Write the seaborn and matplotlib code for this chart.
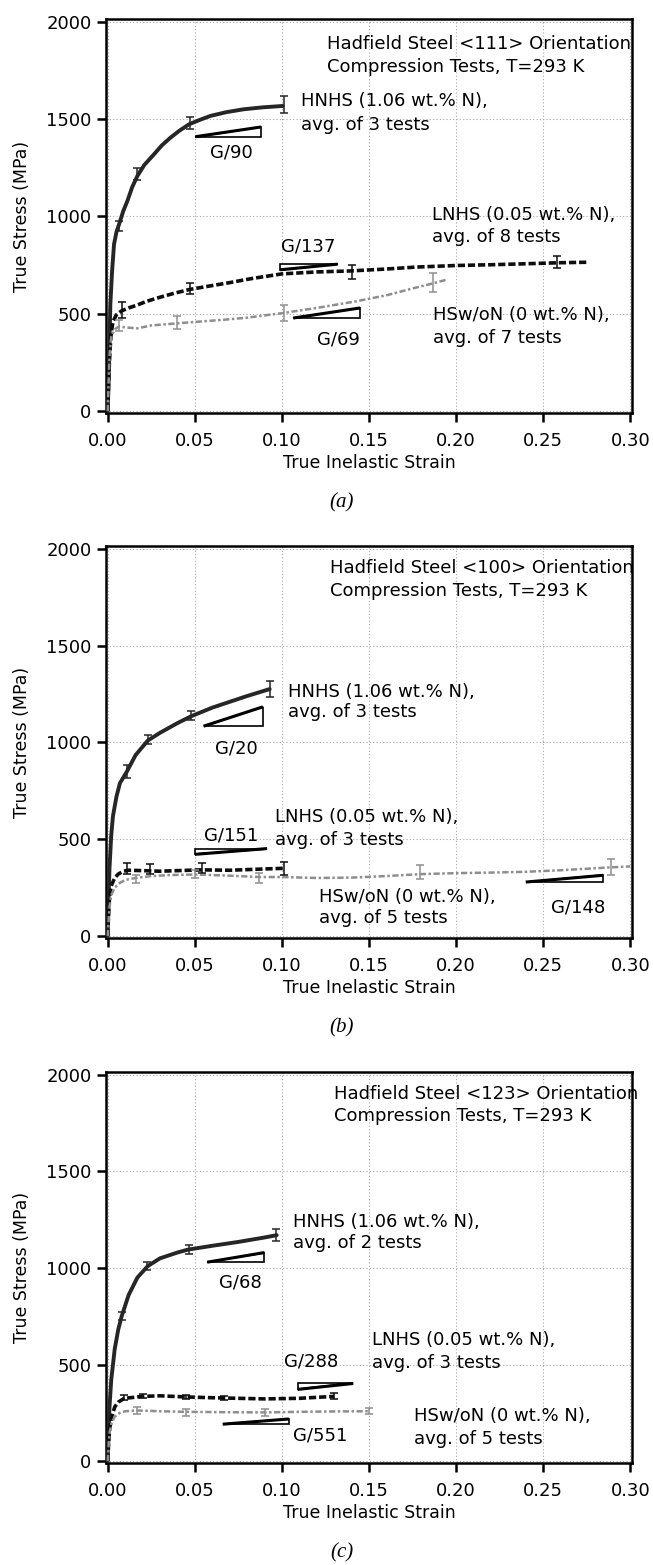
import pandas as pd
import matplotlib
matplotlib.use('Agg')
import matplotlib.pyplot as plt
from matplotlib.patches import Polygon
import seaborn as sns

sns.set_theme(style='white')
plt.rcParams['font.family'] = ['DejaVu Sans']
plt.rcParams['text.color'] = 'black'
plt.rcParams['axes.labelcolor'] = 'black'
plt.rcParams['xtick.color'] = 'black'
plt.rcParams['ytick.color'] = 'black'

series_names = ['HNHS', 'LNHS', 'HSw/oN']
x_ticks = [0.00, 0.05, 0.10, 0.15, 0.20, 0.25, 0.30]
x_tick_labels = ['0.00', '0.05', '0.10', '0.15', '0.20', '0.25', '0.30']
y_ticks = [0, 500, 1000, 1500, 2000]
y_tick_labels = ['0', '500', '1000', '1500', '2000']

# ---------------- panel (a): <111>
a_hnhs_strain = [0, 0.0005, 0.001, 0.0015, 0.0025, 0.0036, 0.005, 0.0065, 0.009, 0.0113, 0.014, 0.017,
                 0.021, 0.0266, 0.031, 0.036, 0.041, 0.0467, 0.053, 0.059, 0.068, 0.078, 0.089, 0.1004]
a_hnhs_stress = [0, 150, 350, 550, 720, 857, 920, 960, 1030, 1080, 1150, 1208,
                 1265, 1320, 1365, 1405, 1440, 1474, 1497, 1517, 1536, 1551, 1561, 1568]
a_lnhs_strain = [0, 0.0005, 0.0012, 0.002, 0.003, 0.005, 0.008, 0.012, 0.017, 0.022, 0.03, 0.038, 0.047,
                 0.06, 0.07, 0.082, 0.1, 0.12, 0.139, 0.16, 0.177, 0.2, 0.22, 0.24, 0.258, 0.276]
a_lnhs_stress = [0, 150, 300, 400, 460, 495, 515, 530, 545, 563, 585, 605, 625,
                 645, 660, 680, 705, 715, 720, 730, 740, 748, 752, 757, 762, 765]
a_hswon_strain = [0, 0.0005, 0.001, 0.002, 0.004, 0.0065, 0.01, 0.017, 0.025, 0.032, 0.04, 0.05, 0.065,
                  0.08, 0.1, 0.12, 0.142, 0.16, 0.175, 0.187, 0.194]
a_hswon_stress = [0, 150, 280, 380, 420, 435, 430, 425, 440, 445, 451, 458, 468,
                  480, 503, 530, 563, 595, 630, 657, 674]
a_hnhs_err_x = [0.0065, 0.017, 0.0475, 0.101]
a_hnhs_err_y = [950, 1220, 1480, 1575]
a_hnhs_err = [25, 30, 30, 45]
a_lnhs_err_x = [0.008, 0.047, 0.14, 0.258]
a_lnhs_err_y = [520, 630, 715, 765]
a_lnhs_err = [40, 30, 35, 30]
a_hswon_err_x = [0.0065, 0.04, 0.101, 0.187]
a_hswon_err_y = [440, 455, 505, 660]
a_hswon_err = [30, 35, 40, 50]
a_slopes = ['G/90', 'G/137', 'G/69']
a_slope_tris = [(0.0503, 0.088, 1410, 1460, 'br'), (0.099, 0.132, 726, 755, 'tl'), (0.1065, 0.145, 478, 530, 'br')]
a_slope_text_xy = [(0.0707, 1327), (0.1153, 846), (0.1325, 370)]
a_header = ['Hadfield Steel <111> Orientation', 'Compression Tests, T=293 K']
a_header_xy = (0.126, 1887, 1769)
a_labels = [('HNHS (1.06 wt.% N),', 'avg. of 3 tests'), ('LNHS (0.05 wt.% N),', 'avg. of 8 tests'),
            ('HSw/oN (0 wt.% N),', 'avg. of 7 tests')]
a_label_xy = [(0.111, 1592, 1468), (0.186, 1008, 897), (0.187, 494, 377)]

# ---------------- panel (b): <100>
b_hnhs_strain = [0, 0.0005, 0.001, 0.002, 0.003, 0.005, 0.007, 0.011, 0.016, 0.023, 0.03, 0.04, 0.048,
                 0.06, 0.07, 0.08, 0.093]
b_hnhs_stress = [0, 200, 350, 520, 620, 720, 790, 850, 935, 1010, 1050, 1100, 1136,
                 1180, 1210, 1240, 1276]
b_lnhs_strain = [0, 0.0005, 0.001, 0.002, 0.004, 0.006, 0.009, 0.012, 0.02, 0.03, 0.04, 0.054, 0.07, 0.085, 0.101]
b_lnhs_stress = [0, 120, 200, 260, 300, 320, 335, 340, 338, 335, 338, 342, 340, 345, 350]
b_hswon_strain = [0, 0.0005, 0.001, 0.002, 0.004, 0.007, 0.01, 0.016, 0.025, 0.035, 0.05, 0.07, 0.087, 0.1,
                  0.12, 0.14, 0.16, 0.18, 0.2, 0.22, 0.24, 0.26, 0.289, 0.3]
b_hswon_stress = [0, 80, 150, 210, 250, 275, 290, 300, 310, 315, 318, 312, 305, 305,
                  300, 302, 310, 320, 325, 328, 332, 340, 355, 360]
b_hnhs_err_x = [0.011, 0.023, 0.048, 0.093]
b_hnhs_err_y = [850, 1015, 1140, 1276]
b_hnhs_err = [35, 25, 25, 40]
b_lnhs_err_x = [0.011, 0.024, 0.054, 0.101]
b_lnhs_err_y = [350, 345, 350, 350]
b_lnhs_err = [30, 25, 25, 35]
b_hswon_err_x = [0.016, 0.05, 0.087, 0.179, 0.289]
b_hswon_err_y = [295, 320, 300, 330, 358]
b_hswon_err = [20, 20, 25, 35, 40]
b_slopes = ['G/20', 'G/151', 'G/148']
b_slope_tris = [(0.055, 0.089, 1084, 1184, 'br'), (0.050, 0.0915, 422, 452, 'tl'), (0.240, 0.2845, 279, 314, 'br')]
b_slope_text_xy = [(0.0736, 969), (0.0707, 521), (0.27, 147)]
b_header = ['Hadfield Steel <100> Orientation', 'Compression Tests, T=293 K']
b_header_xy = (0.1275, 1900, 1784)
b_labels = [('HNHS (1.06 wt.% N),', 'avg. of 3 tests'), ('LNHS (0.05 wt.% N),', 'avg. of 3 tests'),
            ('HSw/oN (0 wt.% N),', 'avg. of 5 tests')]
b_label_xy = [(0.1035, 1262, 1155), (0.0963, 615, 498), (0.1215, 202, 95)]

# ---------------- panel (c): <123>
c_hnhs_strain = [0, 0.0005, 0.001, 0.002, 0.004, 0.006, 0.008, 0.012, 0.017, 0.023, 0.03, 0.04, 0.046,
                 0.06, 0.075, 0.09, 0.097]
c_hnhs_stress = [0, 150, 280, 420, 580, 680, 750, 860, 950, 1010, 1050, 1080, 1095,
                 1115, 1135, 1158, 1170]
c_lnhs_strain = [0, 0.0005, 0.001, 0.002, 0.004, 0.006, 0.0095, 0.015, 0.02, 0.03, 0.045, 0.06, 0.075,
                 0.09, 0.11, 0.12, 0.13]
c_lnhs_stress = [0, 100, 160, 220, 280, 305, 325, 330, 335, 338, 332, 328, 325,
                 322, 325, 330, 335]
c_hswon_strain = [0, 0.0005, 0.001, 0.002, 0.004, 0.007, 0.01, 0.0167, 0.03, 0.045, 0.07, 0.09, 0.11, 0.13, 0.15]
c_hswon_stress = [0, 80, 140, 190, 230, 250, 258, 262, 258, 255, 253, 252, 255, 257, 258]
c_hnhs_err_x = [0.008, 0.0226, 0.0464, 0.0964]
c_hnhs_err_y = [750, 1009, 1095, 1170]
c_hnhs_err = [20, 20, 25, 30]
c_lnhs_err_x = [0.0095, 0.02, 0.045, 0.067, 0.13]
c_lnhs_err_y = [330, 338, 332, 328, 337]
c_lnhs_err = [12, 10, 12, 10, 15]
c_hswon_err_x = [0.0167, 0.045, 0.0905, 0.15]
c_hswon_err_y = [262, 252, 252, 258]
c_hswon_err = [18, 18, 20, 15]
c_slopes = ['G/68', 'G/288', 'G/551']
c_slope_tris = [(0.0571, 0.09, 1030, 1080, 'br'), (0.109, 0.141, 371, 402, 'tl'), (0.066, 0.104, 191, 218, 'br')]
c_slope_text_xy = [(0.076, 925), (0.1167, 518), (0.122, 134)]
c_header = ['Hadfield Steel <123> Orientation', 'Compression Tests, T=293 K']
c_header_xy = (0.13, 1902, 1786)
c_labels = [('HNHS (1.06 wt.% N),', 'avg. of 2 tests'), ('LNHS (0.05 wt.% N),', 'avg. of 3 tests'),
            ('HSw/oN (0 wt.% N),', 'avg. of 5 tests')]
c_label_xy = [(0.1064, 1236, 1129), (0.152, 625, 509), (0.176, 232, 116)]

colors = {'HNHS': '#262626', 'LNHS': '#0d0d0d', 'HSw/oN': '#8e8e8e'}
dashes = {'HNHS': '', 'LNHS': (2.0, 0.8), 'HSw/oN': (2.5, 1, 1, 1)}
widths = {'HNHS': 2.8, 'LNHS': 2.6, 'HSw/oN': 1.8}


def draw_panel(ax, curves, errs, slopes, tris, slope_xy, header, header_xy, labels, label_xy):
    frames = []
    for name, (sx, sy) in zip(series_names, curves):
        frames.append(pd.DataFrame({'strain': sx, 'stress': sy, 'series': name}))
    df = pd.concat(frames, ignore_index=True)
    sns.lineplot(data=df, x='strain', y='stress', hue='series', style='series', size='series',
                 palette=colors, dashes=dashes, sizes=widths, estimator=None, sort=False,
                 legend=False, ax=ax, zorder=3)
    for name, (ex, ey, ee) in zip(series_names, errs):
        ax.errorbar(ex, ey, yerr=ee, fmt='none', ecolor=colors[name], elinewidth=1.1,
                    capsize=3, capthick=1.1, zorder=3)

    for (x0, x1, y0, y1, kind), lab, (tx, ty) in zip(tris, slopes, slope_xy):
        if kind == 'br':
            verts = [(x0, y0), (x1, y0), (x1, y1)]
        else:
            verts = [(x0, y0), (x0, y1), (x1, y1)]
        ax.add_patch(Polygon(verts, closed=True, fc='white', ec='black', lw=1.2, zorder=4))
        ax.plot([x0, x1], [y0, y1], color='black', lw=2.2, zorder=5, solid_capstyle='butt')
        ax.text(tx, ty, lab, fontsize=13, ha='center', va='center', zorder=6)

    hx, hy1, hy2 = header_xy
    ax.text(hx, hy1, header[0], fontsize=13, ha='left', va='center')
    ax.text(hx, hy2, header[1], fontsize=13, ha='left', va='center')
    for (l1, l2), (lx, ly1, ly2) in zip(labels, label_xy):
        ax.text(lx, ly1, l1, fontsize=13, ha='left', va='center')
        ax.text(lx, ly2, l2, fontsize=13, ha='left', va='center')

    ax.set_xlim(-0.001, 0.301)
    ax.set_ylim(-10, 2015)
    ax.set_xticks(x_ticks, x_tick_labels)
    ax.set_yticks(y_ticks, y_tick_labels)
    ax.grid(True, color='#a8a8a8', linestyle=(0, (1, 2)), linewidth=0.8)
    ax.set_axisbelow(True)
    for sp in ax.spines.values():
        sp.set_visible(True)
        sp.set_color('black')
        sp.set_linewidth(1.8)
    ax.tick_params(axis='both', direction='out', length=6.5, width=1.8, labelsize=13, colors='black',
                   bottom=True, left=True)
    ax.tick_params(axis='x', pad=7)
    ax.tick_params(axis='y', pad=4)
    ax.set_xlabel('True Inelastic Strain', fontsize=12.5)
    ax.set_ylabel('True Stress (MPa)', fontsize=12.5)
    ax.xaxis.set_label_coords(0.5, -0.104)
    ax.yaxis.set_label_coords(-0.142, 0.5)


fig = plt.figure(figsize=(6.53, 15.65), dpi=100)
W, H = 653.0, 1565.0
left = 106 / W
width = (632 - 106) / W

panels = [
    (413, 394, 'a', [(a_hnhs_strain, a_hnhs_stress), (a_lnhs_strain, a_lnhs_stress), (a_hswon_strain, a_hswon_stress)],
     [(a_hnhs_err_x, a_hnhs_err_y, a_hnhs_err), (a_lnhs_err_x, a_lnhs_err_y, a_lnhs_err),
      (a_hswon_err_x, a_hswon_err_y, a_hswon_err)],
     a_slopes, a_slope_tris, a_slope_text_xy, a_header, a_header_xy, a_labels, a_label_xy, 503),
    (938, 392, 'b', [(b_hnhs_strain, b_hnhs_stress), (b_lnhs_strain, b_lnhs_stress), (b_hswon_strain, b_hswon_stress)],
     [(b_hnhs_err_x, b_hnhs_err_y, b_hnhs_err), (b_lnhs_err_x, b_lnhs_err_y, b_lnhs_err),
      (b_hswon_err_x, b_hswon_err_y, b_hswon_err)],
     b_slopes, b_slope_tris, b_slope_text_xy, b_header, b_header_xy, b_labels, b_label_xy, 1028),
    (1463, 391, 'c', [(c_hnhs_strain, c_hnhs_stress), (c_lnhs_strain, c_lnhs_stress), (c_hswon_strain, c_hswon_stress)],
     [(c_hnhs_err_x, c_hnhs_err_y, c_hnhs_err), (c_lnhs_err_x, c_lnhs_err_y, c_lnhs_err),
      (c_hswon_err_x, c_hswon_err_y, c_hswon_err)],
     c_slopes, c_slope_tris, c_slope_text_xy, c_header, c_header_xy, c_labels, c_label_xy, 1553),
]

for bottom_px, h_px, tag, curves, errs, slopes, tris, sxy, header, hxy, labels, lxy, tag_y in panels:
    ax = fig.add_axes([left, 1 - bottom_px / H, width, h_px / H])
    draw_panel(ax, curves, errs, slopes, tris, sxy, header, hxy, labels, lxy)
    fig.text(342 / W, 1 - tag_y / H, '(' + tag + ')', family='Liberation Serif', style='italic',
             fontsize=15, ha='center', va='center')

fig.savefig('out.png', dpi=100)
